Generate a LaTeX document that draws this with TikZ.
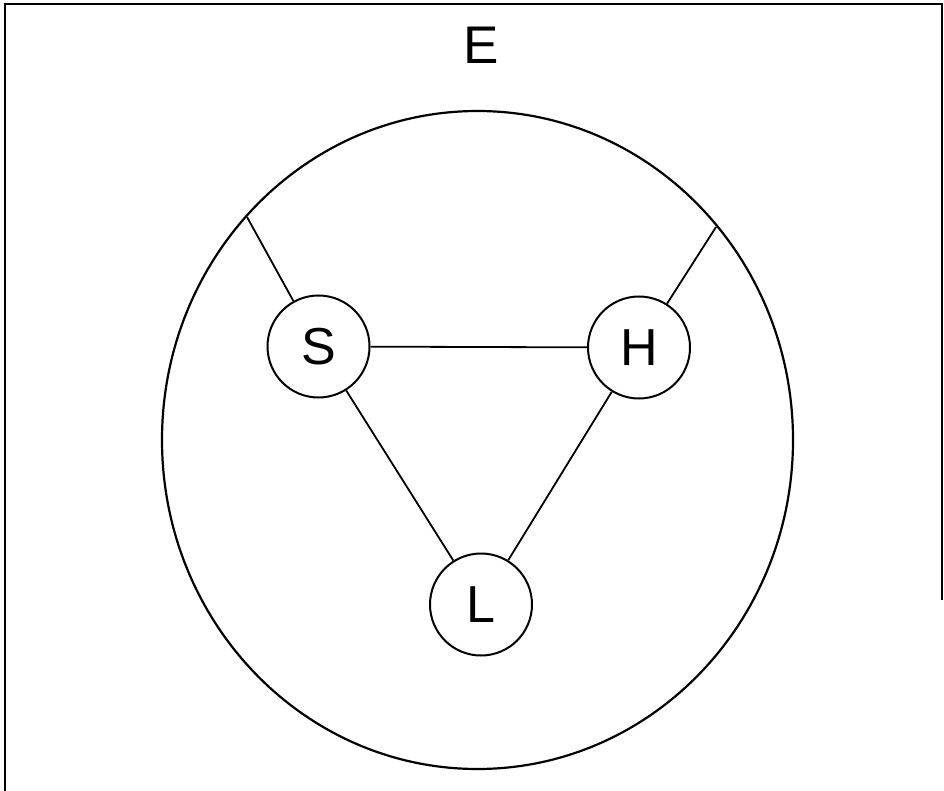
\documentclass[tikz,border=0pt]{standalone}
\usepackage{fontspec}
\setmainfont{Liberation Sans}
\begin{document}
\begin{tikzpicture}[x=1pt,y=-1pt,
  ln/.style={line width=1.8pt,black},
  bubble/.style={circle,draw,line width=2pt,minimum size=102pt,inner sep=0pt,font=\fontsize{52}{52}\selectfont},
  lbl/.style={inner sep=0pt,font=\fontsize{53}{53}\selectfont}]
\useasboundingbox (0,0) rectangle (944,791);
\fill[white] (0,0) rectangle (944,791);
% frame
\draw[line width=2pt] (5,791) -- (5,4) -- (942,4) -- (942,600);
% label E
\node[lbl] (E) at (481,45) {E};
% environment ellipse
\draw[line width=2.2pt] (477.5,440) ellipse [x radius=315.5pt, y radius=329pt];
\coordinate (so) at (247,217);
\coordinate (ho) at (716,227);
% subsystems
\node[bubble] (S) at (318.5,346.5) {S};
\node[bubble] (H) at (639,347.5) {H};
\node[bubble] (L) at (481,604.5) {L};
\draw[ln] (S) -- (H);
\draw[ln] (S) -- (L);
\draw[ln] (H) -- (L);
\draw[ln] (S) -- (so);
\draw[ln] (H) -- (ho);
\end{tikzpicture}
\end{document}
